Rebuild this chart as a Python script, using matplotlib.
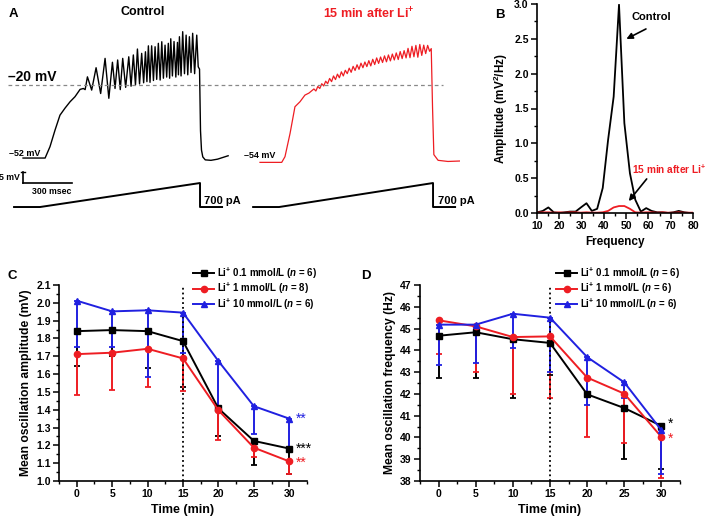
import numpy as np
import matplotlib
matplotlib.use('Agg')
import matplotlib.pyplot as plt
from matplotlib.ticker import MultipleLocator

plt.rcParams['font.family'] = ['Liberation Sans', 'DejaVu Sans']
plt.rcParams['font.weight'] = 'bold'
plt.rcParams['axes.labelweight'] = 'bold'
plt.rcParams['mathtext.fontset'] = 'custom'
plt.rcParams['mathtext.rm'] = 'Liberation Sans:bold'
plt.rcParams['mathtext.bf'] = 'Liberation Sans:bold'
plt.rcParams['mathtext.it'] = 'Liberation Sans:italic:bold'

RED = '#ee1d23'
BLUE = '#2020e0'

# ---- panel A: membrane potential traces (ms, mV) ----
ctrl_t = [0, 135, 165, 196, 226, 257, 288, 318, 349, 369, 380,
          394, 420, 447, 475, 502, 525, 547, 563, 579, 595, 610, 628, 647, 661,
          675, 688, 700, 713, 726, 738, 749, 758, 767, 777, 787, 798, 808, 818,
          828, 839, 849, 859, 869, 879, 889, 897, 904, 914, 924, 935, 945, 951,
          957, 967, 977, 988, 998, 1008, 1018, 1028, 1038, 1050, 1063, 1072,
          1080, 1086, 1092, 1100, 1115, 1150, 1190, 1255]
ctrl_v = [-52, -52, -47, -39.7, -33.2, -30.1, -27.3, -25.1, -21.9, -21.5, -22.0,
          -16.4, -22.2, -12.4, -23.7, -8.3, -25.8, -10.0, -21.5, -9.0, -22.0, -8.3, -21.0, -7.6, -20.5,
          -6.8, -20.0, -4.2, -19.5, -6.1, -19.0, -5.4, -18.5, -2.8, -18.8, -2.8, -18.0, -3.2, -17.5,
          -1.7, -17.8, -1.0, -17.0, -2.5, -16.5, -1.7, -17.0, 0.3, -16.0, -0.9, -16.5, -1.3, -15.5,
          1.2, -16.0, 3.4, -15.0, 1.9, -15.5, 1.2, -14.5, 2.7, -15.0, 1.9, -12.0,
          -13.0, -40.0, -48.5, -51.5, -52.8, -53.0, -52.5, -51.0]

li_t = [0, 133, 153, 184, 214, 245, 275, 300,
        330, 342, 354, 366, 378, 390, 402, 414, 426, 438, 450, 462, 474, 486,
        498, 510, 522, 534, 546, 558, 570, 582, 594, 606, 618, 630, 642, 654,
        666, 678, 690, 702, 714, 726, 738, 750, 762, 774, 786, 798, 810, 822,
        834, 846, 858, 870, 882, 894, 906, 918, 930, 942, 954, 966, 978, 990,
        1002, 1014, 1026, 1038, 1048, 1056, 1064, 1090, 1150, 1224]
li_v = [-53.9, -53.9, -51.4, -41.2, -29.5, -27.3, -24.4, -23.5,
        -21.7, -22.6, -20.6, -21.5, -19.4, -20.4, -18.3, -19.4, -17.1, -18.5, -16.0, -17.6, -15.2, -16.8,
        -14.2, -16.0, -13.5, -15.0, -12.6, -14.4, -11.8, -13.6, -11.1, -13.1, -10.4, -12.4, -9.9, -11.9,
        -9.3, -11.6, -8.7, -11.0, -8.1, -10.5, -7.7, -10.1, -7.2, -9.8, -6.8, -9.4, -6.4, -9.0,
        -5.9, -8.8, -5.3, -8.4, -4.9, -8.1, -3.9, -8.0, -3.0, -7.6, -2.6, -7.8, -2.2, -7.0,
        -2.5, -6.2, -2.6, -5.2, -4.0, -30.0, -50.5, -53.0, -53.5, -53.3]

# current ramp command (ms, pA)
ramp_t_ctrl = [-55, 104, 1083, 1083, 1218]
ramp_t_li = [-42, 117, 1059, 1059, 1194]
ramp_pA = [0, 0, 700, 0, 0]

# ---- panel B: power spectrum ----
freq = [10.2, 12.6, 15.1, 17.5, 20.0, 22.4, 24.8, 27.3, 29.7, 32.2, 34.6, 37.0,
        39.5, 41.9, 44.4, 46.8, 49.2, 51.7, 54.1, 56.6, 59.0, 61.4, 63.9, 66.3,
        68.8, 71.2, 73.6, 76.1, 78.5, 81.0]
amp_ctrl = [0.01, 0.03, 0.08, 0.01, 0.0, 0.01, 0.02, 0.02, 0.08, 0.14, 0.03, 0.06,
            0.36, 1.05, 1.67, 2.99, 1.29, 0.57, 0.19, 0.02, 0.07, 0.03, 0.01, 0.01,
            0.0, 0.01, 0.03, 0.01, 0.0, 0.0]
amp_li = [0.005, 0.01, 0.01, 0.005, 0.01, 0.005, 0.01, 0.01, 0.005, 0.01, 0.005, 0.005,
          0.01, 0.03, 0.08, 0.10, 0.10, 0.06, 0.01, 0.005, 0.01, 0.01, 0.005, 0.01,
          0.005, 0.005, 0.01, 0.005, 0.005, 0.005]

# ---- panels C and D: time course ----
time_min = [0, 5, 10, 15, 20, 25, 30]
c_black = [1.841, 1.847, 1.841, 1.785, 1.407, 1.225, 1.182]
c_black_low = [1.645, 1.700, 1.635, 1.528, 1.251, 1.088, 1.040]
c_red = [1.712, 1.720, 1.742, 1.688, 1.397, 1.187, 1.110]
c_red_low = [1.485, 1.510, 1.528, 1.506, 1.232, 1.135, 1.041]
c_blue = [2.012, 1.952, 1.958, 1.945, 1.673, 1.420, 1.350]
c_blue_low = [1.753, 1.751, 1.585, 1.716, 1.420, 1.266, 1.180]

d_black = [44.67, 44.83, 44.51, 44.34, 41.98, 41.35, 40.53]
d_black_low = [42.75, 42.73, 41.81, 42.85, 41.98, 38.99, 38.54]
d_red = [45.38, 45.10, 44.61, 44.64, 42.75, 42.01, 40.02]
d_red_low = [43.82, 42.99, 41.98, 41.83, 40.02, 39.74, 38.15]
d_blue = [45.18, 45.18, 45.68, 45.50, 43.69, 42.53, 40.33]
d_blue_low = [43.31, 43.42, 44.10, 43.00, 41.47, 41.83, 38.31]

labels_c = [r'Li$^{+}$ 0.1 mmol/L ($n$ = 6)', r'Li$^{+}$ 1 mmol/L ($n$ = 8)',
            r'Li$^{+}$ 10 mmol/L ($n$ = 6)']
labels_d = [r'Li$^{+}$ 0.1 mmol/L ($n$ = 6)', r'Li$^{+}$ 1 mmol/L ($n$ = 6)',
            r'Li$^{+}$ 10 mmol/L ($n$ = 6)']

W, H = 709, 516
fig = plt.figure(figsize=(W / 100, H / 100), dpi=100)


def px_axes(x0, y0, x1, y1):
    return fig.add_axes([x0 / W, 1 - y1 / H, (x1 - x0) / W, (y1 - y0) / H])


# ---------------- Panel A ----------------
LI_OFFSET = 1450
axv = px_axes(0, 0, 460, 200)
axv.set_xlim(-141, 2674)
axv.set_ylim(-70.4, 17.3)
axv.axis('off')
axv.plot(ctrl_t, ctrl_v, color='black', lw=1.0)
axv.plot(np.array(li_t) + LI_OFFSET, li_v, color=RED, lw=0.9)
axv.plot([-92, 2570], [-20, -20], color='#888888', lw=0.9, ls=(0, (3, 2.5)))
axv.text(-92, -19.6, '\u201320 mV', fontsize=10, ha='left', va='bottom')
axv.text(-86, -51.8, '\u201352 mV', fontsize=6.5, ha='left', va='bottom')
axv.text(1352, -53.0, '\u201354 mV', fontsize=6.5, ha='left', va='bottom')
axv.text(734, 12.0, 'Control', fontsize=9, ha='center', va='center')
axv.text(2118, 11.1, r'15 min after Li$^{+}$', fontsize=9, ha='center', va='center', color=RED)
# scale bar 5 mV / 300 ms
axv.plot([0, 0], [-63, -58], color='black', lw=1.2)
axv.plot([-12, 12], [-58, -58], color='black', lw=1.0)
axv.plot([0, 300], [-63, -63], color='black', lw=1.2)
axv.text(-18, -60.5, '5 mV', fontsize=6.3, ha='right', va='center')
axv.text(177, -64.5, '300 msec', fontsize=6.3, ha='center', va='top')

axi = px_axes(0, 170, 460, 215)
axi.set_xlim(-141, 2674)
axi.set_ylim(-233, 1080)
axi.axis('off')
axi.plot(ramp_t_ctrl, ramp_pA, color='black', lw=1.4)
axi.plot(np.array(ramp_t_li) + LI_OFFSET, ramp_pA, color='black', lw=1.4)
axi.text(1108, 176, '700 pA', fontsize=8, ha='left', va='center')
axi.text(2540, 176, '700 pA', fontsize=8, ha='left', va='center')

# ---------------- Panel B ----------------
axb = px_axes(537, 4, 693, 213)
axb.plot(freq, amp_ctrl, color='black', lw=1.3)
axb.plot(freq, amp_li, color=RED, lw=1.3)
axb.set_xlim(10, 80)
axb.set_ylim(0, 3.0)
axb.xaxis.set_major_locator(MultipleLocator(10))
axb.xaxis.set_minor_locator(MultipleLocator(5))
axb.yaxis.set_major_locator(MultipleLocator(0.5))
axb.yaxis.set_minor_locator(MultipleLocator(0.25))
axb.yaxis.set_major_formatter(plt.FormatStrFormatter('%.1f'))
axb.set_xlabel('Frequency', fontsize=8.5, labelpad=3)
axb.set_ylabel(r'Amplitude (mV$^{2}$/Hz)', fontsize=8.5, labelpad=3)
axb.annotate('', xy=(49.0, 2.48), xytext=(60.0, 2.66),
             arrowprops=dict(arrowstyle='-|>', color='black', lw=1.2, mutation_scale=9))
axb.text(61.5, 2.81, 'Control', fontsize=8, ha='center', va='center')
axb.annotate('', xy=(50.4, 0.14), xytext=(60.0, 0.52),
             arrowprops=dict(arrowstyle='-|>', color='black', lw=1.2, mutation_scale=9))
axb.text(86.0, 0.63, r'15 min after Li$^{+}$', fontsize=7.3, ha='right', va='center',
         color=RED, clip_on=False)


# ---------------- Panels C / D ----------------
def time_course(ax, series, labels, ylim, ymajor, yminor, ylabel, stars, leg_x):
    markers = ['s', 'o', '^']
    colors = ['black', RED, BLUE]
    for (mean, low), lab, mk, col in zip(series, labels, markers, colors):
        mean = np.array(mean)
        err = [mean - np.array(low), np.zeros_like(mean)]
        ax.errorbar(time_min, mean, yerr=err, color=col, marker=mk, ms=4.5, lw=1.4,
                    elinewidth=1.4, capsize=2.5, capthick=1.3, label=lab)
    ax.axvline(15, color='black', ls=':', lw=1.3)
    ax.set_xlim(-2.5, 32.5)
    ax.set_ylim(*ylim)
    ax.set_xticks(time_min)
    ax.xaxis.set_minor_locator(MultipleLocator(2.5))
    ax.yaxis.set_major_locator(MultipleLocator(ymajor))
    ax.yaxis.set_minor_locator(MultipleLocator(yminor))
    ax.set_xlabel('Time (min)', fontsize=9, labelpad=3)
    ax.set_ylabel(ylabel, fontsize=8.7, labelpad=3)
    for y, txt, col in stars:
        ax.text(30.9, y, txt, color=col, fontsize=10, fontweight='normal',
                ha='left', va='center')
    handles, labs = ax.get_legend_handles_labels()
    handles = [h[0] for h in handles]
    ax.legend(handles, labs, loc='upper left', bbox_to_anchor=(leg_x, 1.10),
              frameon=False, fontsize=7, borderpad=0, borderaxespad=0,
              handlelength=2.2, handletextpad=0.3, labelspacing=0.02)


axc = px_axes(59, 285, 307, 481)
time_course(axc, [(c_black, c_black_low), (c_red, c_red_low), (c_blue, c_blue_low)],
            labels_c, (1.0, 2.1), 0.1, 0.05, 'Mean oscillation amplitude (mV)',
            [(1.35, '**', BLUE), (1.18, '***', 'black'), (1.105, '**', RED)], 0.54)
axc.yaxis.set_major_formatter(plt.FormatStrFormatter('%.1f'))

axd = px_axes(420, 285, 680, 481)
time_course(axd, [(d_black, d_black_low), (d_red, d_red_low), (d_blue, d_blue_low)],
            labels_d, (38, 47), 1, 0.5, 'Mean oscillation frequency (Hz)',
            [(40.62, '*', 'black'), (39.95, '*', RED)], 0.523)

for ax in (axb, axc, axd):
    ax.spines['top'].set_visible(False)
    ax.spines['right'].set_visible(False)
    for s in ('left', 'bottom'):
        ax.spines[s].set_linewidth(1.2)
    ax.tick_params(which='major', direction='out', length=4, width=1.1, labelsize=7.5, pad=2)
    ax.tick_params(which='minor', direction='out', length=2.2, width=1.0)

for lab, x, y in [('A', 13, 14), ('B', 500, 15), ('C', 12, 276), ('D', 366, 276)]:
    fig.text(x / W, 1 - y / H, lab, fontsize=9.5, ha='center', va='center')

fig.savefig('out.png', dpi=100)
